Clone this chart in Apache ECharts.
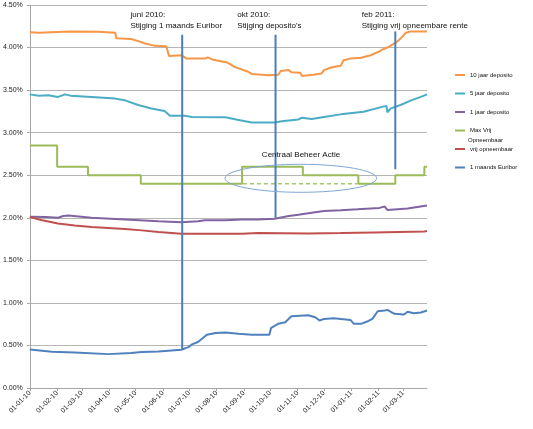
<!DOCTYPE html>
<html><head><meta charset="utf-8">
<script src="https://cdn.jsdelivr.net/npm/echarts@6/dist/echarts.min.js"></script>
<style>html,body{margin:0;padding:0;background:#fff}#c{width:533px;height:429px}</style>
</head><body><div id="c"></div>
<script>
const monthTicks = ['2010-01-01','2010-02-01','2010-03-01','2010-04-01','2010-05-01','2010-06-01','2010-07-01','2010-08-01','2010-09-01','2010-10-01','2010-11-01','2010-12-01','2011-01-01','2011-02-01','2011-03-01'];
const yTicks = [0,0.5,1,1.5,2,2.5,3,3.5,4,4.5];

const tenYearDates = ['2010-01-01','2010-01-11','2010-01-12','2010-02-15','2010-03-20','2010-04-08','2010-04-09','2010-04-26','2010-05-06','2010-05-11','2010-05-23','2010-06-05','2010-06-08','2010-06-22','2010-06-28','2010-07-19','2010-07-22','2010-07-27','2010-08-13','2010-08-22','2010-09-06','2010-09-10','2010-09-29','2010-10-10','2010-10-13','2010-10-22','2010-10-25','2010-11-04','2010-11-06','2010-11-19','2010-11-28','2010-12-01','2010-12-09','2010-12-20','2010-12-23','2010-12-31','2011-01-12','2011-01-23','2011-02-02','2011-02-06','2011-02-13','2011-02-21','2011-02-26','2011-03-04','2011-03-10','2011-03-28'];
const tenYearValues = [4.18,4.175,4.195,4.19,4.185,4.175,4.11,4.10,4.07,4.05,4.02,4.015,3.90,3.91,3.87,3.87,3.885,3.86,3.825,3.77,3.715,3.69,3.675,3.68,3.725,3.735,3.71,3.705,3.665,3.68,3.695,3.735,3.765,3.785,3.85,3.87,3.88,3.91,3.955,3.98,4.01,4.06,4.105,4.175,4.19,4.19];

const fiveYearDates = ['2010-01-01','2010-01-11','2010-01-22','2010-02-02','2010-02-10','2010-02-16','2010-03-12','2010-04-08','2010-04-19','2010-05-04','2010-05-19','2010-06-03','2010-06-09','2010-06-26','2010-07-04','2010-08-11','2010-08-26','2010-09-10','2010-10-06','2010-10-14','2010-11-02','2010-11-06','2010-11-17','2010-12-01','2010-12-20','2011-01-15','2011-02-04','2011-02-10','2011-02-11','2011-02-15','2011-02-26','2011-03-10','2011-03-21','2011-03-28'];
const fiveYearValues = [3.45,3.435,3.44,3.42,3.45,3.435,3.42,3.40,3.38,3.325,3.285,3.255,3.20,3.20,3.185,3.18,3.15,3.12,3.12,3.135,3.155,3.175,3.16,3.185,3.215,3.245,3.30,3.315,3.24,3.285,3.325,3.38,3.42,3.45];

const oneYearDates = ['2010-01-01','2010-01-19','2010-02-02','2010-02-08','2010-02-14','2010-02-16','2010-03-12','2010-04-19','2010-05-27','2010-06-22','2010-07-11','2010-07-19','2010-08-11','2010-08-30','2010-09-17','2010-10-06','2010-10-22','2010-11-02','2010-11-17','2010-12-01','2010-12-20','2011-01-08','2011-02-02','2011-02-08','2011-02-11','2011-03-06','2011-03-28'];
const oneYearValues = [2.012,2.008,2.0,2.02,2.028,2.008,2.0,1.98,1.96,1.948,1.96,1.972,1.972,1.98,1.98,1.988,2.02,2.036,2.06,2.08,2.088,2.10,2.116,2.132,2.092,2.108,2.145];

const maxVrijDates = ['2010-01-01','2010-02-01','2010-03-08','2010-05-07','2010-08-30','2010-11-07','2011-01-09','2011-02-20','2011-03-25','2011-03-28'];
const maxVrijValues = [2.85,2.60,2.50,2.40,2.60,2.50,2.40,2.50,2.60,2.60];

const regularDates = ['2010-08-31','2011-01-08'];
const regularValues = [2.40,2.40];

const vrijDates = ['2010-01-01','2010-01-15','2010-02-02','2010-02-21','2010-03-12','2010-03-31','2010-04-19','2010-05-08','2010-05-27','2010-06-22','2010-08-30','2010-09-17','2010-11-13','2010-12-20','2011-01-27','2011-03-25','2011-03-28'];
const vrijValues = [2.008,1.972,1.932,1.908,1.892,1.88,1.868,1.852,1.832,1.812,1.812,1.82,1.815,1.82,1.828,1.84,1.845];

const euriborDates = ['2010-01-01','2010-01-26','2010-02-21','2010-03-31','2010-04-26','2010-05-08','2010-05-27','2010-06-22','2010-06-30','2010-07-04','2010-07-11','2010-07-21','2010-07-31','2010-08-11','2010-08-26','2010-09-10','2010-09-30','2010-10-02','2010-10-10','2010-10-18','2010-10-25','2010-11-13','2010-11-21','2010-11-26','2010-12-01','2010-12-12','2010-12-31','2011-01-04','2011-01-12','2011-01-19','2011-01-25','2011-01-31','2011-02-08','2011-02-11','2011-02-19','2011-03-02','2011-03-06','2011-03-13','2011-03-21','2011-03-28'];
const euriborValues = [0.453,0.426,0.418,0.398,0.41,0.422,0.43,0.449,0.48,0.512,0.54,0.625,0.645,0.652,0.637,0.625,0.625,0.707,0.754,0.773,0.844,0.855,0.832,0.793,0.812,0.82,0.80,0.754,0.754,0.781,0.812,0.902,0.91,0.918,0.871,0.863,0.895,0.879,0.887,0.91];

const eventDates = ['2010-06-23','2010-10-07','2011-02-20'];
const eventLows = [0.452, 2.00, 2.57];
const eventHighs = [4.15, 4.15, 4.19];
const eventTitles = ['juni 2010:', 'okt 2010:', 'feb 2011:'];
const eventTexts = ['Stijging 1 maands Euribor', "Stijging deposito's", 'Stijging vrij opneembare rente'];

const seriesNames = ['10 jaar deposito','5 jaar deposito','1 jaar deposito','Max Vrij Opneembaar','vrij opneembaar','1 maands Euribor'];
const seriesColors = ['#f79646','#4bacc6','#8064a2','#9bbb59','#c0504d','#4f81bd'];

function ts(s){const p=s.split('-').map(Number);return new Date(p[0],p[1]-1,p[2]).getTime();}
function zip(d,v){return d.map((x,i)=>[ts(x),v[i]]);}
function pad(n){return (n<10?'0':'')+n;}

const FONT = 'Liberation Sans';
const chart = echarts.init(document.getElementById('c'), null, {renderer:'canvas'});
const tickVals = monthTicks.map(ts);

const dataSets = [
  zip(tenYearDates,tenYearValues),
  zip(fiveYearDates,fiveYearValues),
  zip(oneYearDates,oneYearValues),
  zip(maxVrijDates,maxVrijValues),
  zip(vrijDates,vrijValues),
  zip(euriborDates,euriborValues)
];

const series = dataSets.map((d,i)=>({
  name: seriesNames[i], type:'line', data:d, symbol:'none', color:seriesColors[i],
  step: i===3 ? 'end' : false,
  lineStyle:{width:2, color:seriesColors[i]}, animation:false, z:2
}));
series.push({
  name:'regulier', type:'line', data:zip(regularDates,regularValues), symbol:'none',
  lineStyle:{width:1.5, type:[4,3], color:'#a4c66d'}, animation:false, z:2
});
eventDates.forEach((d,i)=>{
  series.push({
    name:'event'+i, type:'line', symbol:'none', animation:false, z:5,
    data:[[ts(d),eventLows[i]],[ts(d),eventHighs[i]]],
    lineStyle:{width:2, color:'#4a7ebb'}
  });
});

const gfx = [];
const evLeft = [130.5, 237.3, 361.7];
eventTitles.forEach((t,i)=>{
  gfx.push({type:'text', left:evLeft[i], top:9, z:10,
    style:{text:t+'\n'+eventTexts[i], font:'8px '+FONT, fill:'#111', lineHeight:11}});
});
gfx.push({type:'ellipse', shape:{cx:300.8, cy:178.3, rx:75.8, ry:14}, z:10,
  style:{fill:'none', stroke:'#7ea6d4', lineWidth:1}});
gfx.push({type:'text', x:301, y:154.5, z:10,
  style:{text:'Centraal Beheer Actie', font:'8px '+FONT, fill:'#111', align:'center', verticalAlign:'middle'}});
gfx.push({type:'text', left:468, top:137, z:10,
  style:{text:'Opneembaar', font:'6px '+FONT, fill:'#111'}});

chart.setOption({
  animation:false,
  backgroundColor:'#fff',
  textStyle:{fontFamily:FONT},
  grid:{left:29, right:106, top:5, bottom:41, containLabel:false},
  legend:{
    orient:'vertical', left:455, top:71, padding:0, itemGap:10.5,
    itemWidth:10, itemHeight:2, icon:'rect',
    data:seriesNames,
    formatter:n=> n==='Max Vrij Opneembaar' ? 'Max Vrij' : n,
    textStyle:{fontSize:6, fontFamily:FONT, color:'#111', lineHeight:8}
  },
  xAxis:{
    type:'value', min:ts('2010-01-01'), max:ts('2011-03-28'),
    axisLine:{show:true, lineStyle:{color:'#a6a6a6', width:1}},
    axisTick:{show:true, length:3, customValues:tickVals, lineStyle:{color:'#a6a6a6'}},
    splitLine:{show:false},
    axisLabel:{customValues:tickVals, rotate:45, fontSize:7, fontFamily:FONT, color:'#222', margin:4, hideOverlap:false,
      formatter:v=>{const d=new Date(v);return pad(d.getDate())+'-'+pad(d.getMonth()+1)+'-'+pad(d.getFullYear()%100);}}
  },
  yAxis:{
    type:'value', min:0, max:4.5, interval:0.5,
    axisLine:{show:true, lineStyle:{color:'#a6a6a6'}},
    axisTick:{show:true, length:3, lineStyle:{color:'#a6a6a6'}},
    splitLine:{show:true, lineStyle:{color:'#b5b5b5', width:1}},
    axisLabel:{fontSize:7, fontFamily:FONT, color:'#222', margin:7, formatter:v=>v.toFixed(2)+'%'}
  },
  series:series,
  graphic:gfx
});
</script></body></html>
